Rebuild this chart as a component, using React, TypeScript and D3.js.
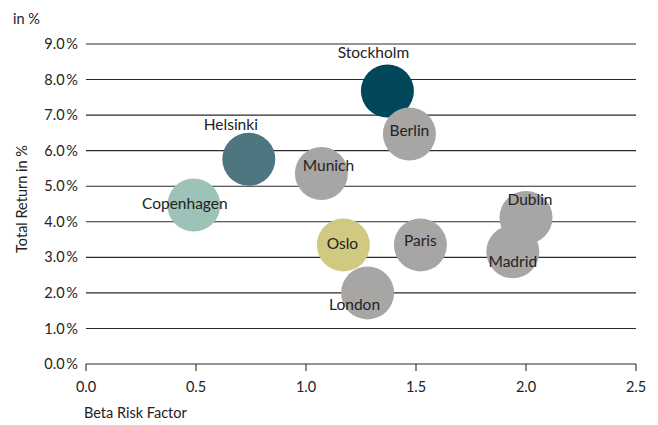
import React from "react";
import * as d3 from "d3";

const cities = ["Stockholm", "Berlin", "Helsinki", "Munich", "Copenhagen", "Oslo", "Paris", "London", "Dublin", "Madrid"];
const beta = [1.37, 1.47, 0.74, 1.07, 0.49, 1.17, 1.52, 1.28, 2.0, 1.94];
const totalReturn = [7.68, 6.47, 5.76, 5.36, 4.47, 3.35, 3.35, 2.0, 4.12, 3.16];
const colors = ["#00475a", "#a7a6a5", "#4e7680", "#a7a6a5", "#9dc2b8", "#cfc982", "#a7a6a5", "#a7a6a5", "#a7a6a5", "#a7a6a5"];
// label offset from bubble centre, px
const labelDx = [-14, 0, -18, 7, -9, -1, 0, -13, 4, 0];
const labelDy = [-38, -3, -35, -8, -1, -1, -4, 12, -18, 10];

const xTicks = [0, 0.5, 1, 1.5, 2, 2.5];
const yTicks = [0, 1, 2, 3, 4, 5, 6, 7, 8, 9];

const W = 658;
const H = 425;
const font = "Lato, 'Open Sans', sans-serif";
const textColor = "#222";

export default function App() {
  const x = d3.scaleLinear().domain([0, 2.5]).range([86, 636]);
  const y = d3.scaleLinear().domain([0, 9]).range([364, 44]);
  const r = 26.5;

  return (
    <svg width={W} height={H} style={{ position: "absolute", left: 0, top: 0 }} fontFamily={font}>
      <text x={13} y={24} fontSize={14.5} fill={textColor}>in %</text>
      {yTicks.map((t) => (
        <g key={t}>
          <line x1={x(0)} x2={x(2.5)} y1={y(t)} y2={y(t)} stroke="#2a2a2a" strokeWidth={1.1} />
          <text x={78} y={y(t)} dy="0.35em" textAnchor="end" fontSize={14.5} fill={textColor}>
            {t.toFixed(1) + "\u2009%"}
          </text>
        </g>
      ))}
      {xTicks.map((t) => (
        <g key={t}>
          <line x1={x(t)} x2={x(t)} y1={y(0)} y2={y(0) + 7} stroke="#2a2a2a" strokeWidth={1.1} />
          <text x={x(t)} y={392} textAnchor="middle" fontSize={14.5} fill={textColor}>
            {t.toFixed(1)}
          </text>
        </g>
      ))}
      <text x={84} y={418} fontSize={14.5} fill={textColor}>Beta Risk Factor</text>
      <text transform={`translate(27,${y(4.5) - 5}) rotate(-90)`} textAnchor="middle" fontSize={14.5} fill={textColor}>
        Total Return in %
      </text>
      {cities.map((c, i) => (
        <circle key={c} cx={x(beta[i])} cy={y(totalReturn[i])} r={r} fill={colors[i]} />
      ))}
      {cities.map((c, i) => (
        <text
          key={c}
          x={x(beta[i]) + labelDx[i]}
          y={y(totalReturn[i]) + labelDy[i]}
          dy="0.35em"
          textAnchor="middle"
          fontSize={15.5}
          fill={textColor}
        >
          {c}
        </text>
      ))}
    </svg>
  );
}
